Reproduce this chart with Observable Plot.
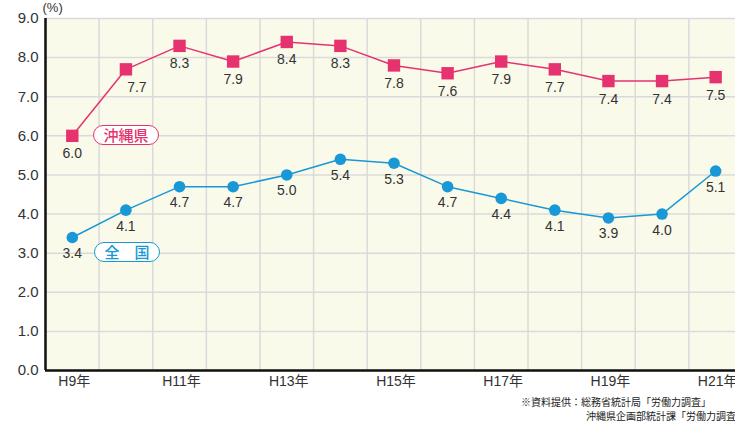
<!DOCTYPE html>
<html><head><meta charset="utf-8">
<script src="https://cdn.jsdelivr.net/npm/d3@7"></script>
<script src="https://cdn.jsdelivr.net/npm/@observablehq/plot@0.6"></script>
<style>
body{margin:0;background:#fff;}
#wrap{position:relative;width:735px;height:423px;overflow:hidden;}
.leg{position:absolute;box-sizing:border-box;background:#fff;border-radius:10px;font-size:15px;font-weight:500;text-align:center;font-family:"Noto Sans CJK JP",sans-serif;white-space:pre;}
.cap{position:absolute;font-size:10px;color:#222;white-space:nowrap;font-family:"Noto Sans CJK JP",sans-serif;line-height:12px;}
</style></head>
<body><div id="wrap"></div>
<script>
const years = ["H9年","H10年","H11年","H12年","H13年","H14年","H15年","H16年","H17年","H18年","H19年","H20年","H21年"];
const okinawa = [6.0,7.7,8.3,7.9,8.4,8.3,7.8,7.6,7.9,7.7,7.4,7.4,7.5];
const national = [3.4,4.1,4.7,4.7,5.0,5.4,5.3,4.7,4.4,4.1,3.9,4.0,5.1];
const yTicks = [0,1,2,3,4,5,6,7,8,9];
const xTickIdx = [0,2,4,6,8,10,12];
const seriesNames = ["沖縄県","全　国"];
const captionLines = ["※資料提供：総務省統計局「労働力調査」","沖縄県企画部統計課「労働力調査」"];

const PINK = "#e6336f", BLUE = "#1898d6";
const ok = years.map((y,i)=>({i, year:y, v:okinawa[i]}));
const nat = years.map((y,i)=>({i, year:y, v:national[i]}));
const bounds = years.map((_,i)=>i-0.5);
const font = "'Liberation Sans', Arial, 'Noto Sans CJK JP', sans-serif";

const chart = Plot.plot({
  width:735, height:423,
  marginLeft:45, marginRight:0, marginTop:18, marginBottom:53,
  x:{type:"linear", domain:[-0.5,12.37]},
  y:{domain:[0,9]},
  style:{fontFamily:font, background:"transparent", color:"#333"},
  marks:[
    Plot.frame({fill:"#fafaeb", stroke:null}),
    Plot.ruleY(yTicks, {y:d=>d, stroke:"#dadada", strokeWidth:1.5}),
    Plot.ruleX(bounds, {x:d=>d, stroke:"#dadada", strokeWidth:1.5}),
    Plot.ruleX([-0.5], {x:d=>d, stroke:"#111", strokeWidth:2.5}),
    Plot.ruleY([0], {y:d=>d, stroke:"#111", strokeWidth:2.5}),
    Plot.axisY({ticks:yTicks, tickFormat:d=>d.toFixed(1), tickSize:0, tickPadding:7, fontSize:15, label:null}),
    Plot.axisX({ticks:xTickIdx, tickFormat:i=>years[i], tickSize:0, tickPadding:6, fontSize:14, dx:2, label:null}),
    Plot.text(["(%)"], {frameAnchor:"top-left", text:d=>d, lineAnchor:"middle", dy:-11, dx:-3, textAnchor:"start", fontSize:13, fill:"#333"}),
    Plot.line(ok, {x:"i", y:"v", stroke:PINK, strokeWidth:1.5}),
    Plot.dot(ok, {x:"i", y:"v", symbol:"square", r:7, fill:PINK, stroke:null}),
    Plot.line(nat, {x:"i", y:"v", stroke:BLUE, strokeWidth:1.5}),
    Plot.dot(nat, {x:"i", y:"v", r:5.8, fill:BLUE, stroke:null}),
    Plot.text(ok.filter(d=>d.i!==1), {x:"i", y:"v", text:d=>d.v.toFixed(1), dy:18, fontSize:14, fill:"#333"}),
    Plot.text(ok.filter(d=>d.i===1), {x:"i", y:"v", text:d=>d.v.toFixed(1), dy:18, dx:11, fontSize:14, fill:"#333"}),
    Plot.text(nat, {x:"i", y:"v", text:d=>d.v.toFixed(1), dy:16, fontSize:14, fill:"#333"})
  ]
});
const wrap = document.getElementById("wrap");
wrap.appendChild(chart);

function addLegend(name, color, left, top){
  const d = document.createElement("div");
  d.className = "leg";
  d.textContent = name;
  Object.assign(d.style, {left:left+"px", top:top+"px", width:"66px", height:"20px", lineHeight:"17px",
    border:"1.5px solid "+color, color:color});
  wrap.appendChild(d);
}
addLegend(seriesNames[0], PINK, 93, 125);
addLegend(seriesNames[1], BLUE, 94, 242);

function addCap(t, left, top){
  const d = document.createElement("div");
  d.className = "cap"; d.textContent = t;
  Object.assign(d.style, {left:left+"px", top:top+"px"});
  wrap.appendChild(d);
}
addCap(captionLines[0], 521, 396);
addCap(captionLines[1], 586, 410);
</script>
</body></html>
